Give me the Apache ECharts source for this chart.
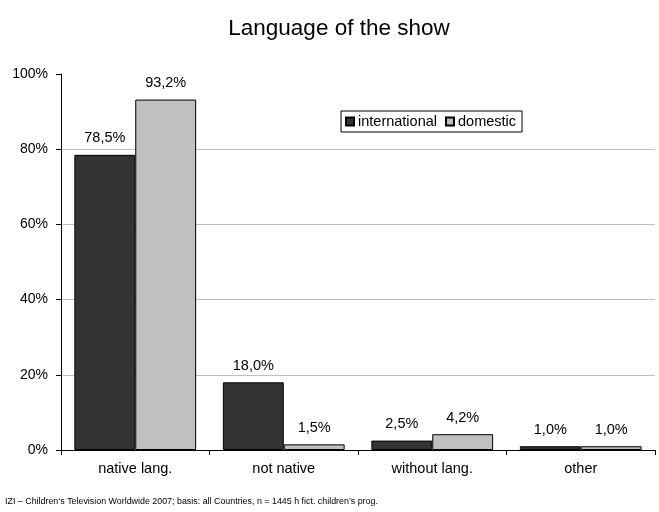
<!DOCTYPE html>
<html>
<head>
<meta charset="utf-8">
<script src="https://cdn.jsdelivr.net/npm/echarts@6/dist/echarts.min.js"></script>
<style>
  html, body { margin: 0; padding: 0; background: #fff; }
  #chart { width: 659px; height: 512px; }
</style>
</head>
<body>
<div id="chart"></div>
<script>
// Language of the show: share of programme hours per category
const categories = ['native lang.', 'not native', 'without lang.', 'other'];
const international = [78.5, 18.0, 2.5, 1.0];
const domestic = [93.2, 1.5, 4.2, 1.0];
const yTicks = [0, 20, 40, 60, 80, 100];

const FONT = '"Liberation Sans", Arial, sans-serif';
const pct = v => v.toFixed(1).replace('.', ',') + '%';

const chart = echarts.init(document.getElementById('chart'), null, { renderer: 'canvas' });

const barLabel = {
  show: true,
  position: 'top',
  distance: 9,
  color: '#000',
  fontFamily: FONT,
  fontSize: 14.5,
  formatter: p => pct(p.value)
};

chart.setOption({
  animation: false,
  backgroundColor: '#fff',
  title: {
    text: 'Language of the show',
    left: 334,
    top: 12,
    textAlign: 'center',
    textStyle: { fontFamily: FONT, fontSize: 22.5, fontWeight: 'normal', color: '#000' }
  },
  graphic: [{
    type: 'text',
    left: 5,
    top: 497,
    style: {
      text: 'IZI \u2013 Children\u2018s Television Worldwide 2007; basis: all Countries, n = 1445 h fict. children\u2019s prog.',
      font: '8.9px ' + FONT,
      fill: '#000'
    }
  }],
  legend: {
    left: 341,
    top: 111,
    orient: 'horizontal',
    padding: [3, 6, 3, 4],
    itemGap: 8,
    itemWidth: 8,
    itemHeight: 8,
    borderColor: '#000',
    borderWidth: 1,
    backgroundColor: '#fff',
    icon: 'rect',
    textStyle: { fontFamily: FONT, fontSize: 14.5, color: '#000', padding: [0, 0, 0, -1] },
    data: ['international', 'domestic']
  },
  grid: { left: 61, right: 4, top: 74, bottom: 62, containLabel: false },
  xAxis: {
    type: 'category',
    data: categories,
    axisLine: { lineStyle: { color: '#000', width: 1 } },
    axisTick: { show: true, length: 5, lineStyle: { color: '#000' } },
    axisLabel: { color: '#000', fontFamily: FONT, fontSize: 14.5, margin: 11 }
  },
  yAxis: {
    type: 'value',
    min: yTicks[0],
    max: yTicks[yTicks.length - 1],
    interval: 20,
    axisLine: { show: true, lineStyle: { color: '#000', width: 1 } },
    axisTick: { show: true, length: 5, lineStyle: { color: '#000' } },
    axisLabel: { color: '#000', fontFamily: FONT, fontSize: 14, margin: 13, formatter: '{value}%' },
    splitLine: {
      show: true,
      lineStyle: { color: ['transparent', '#c0c0c0', '#c0c0c0', '#c0c0c0', '#c0c0c0', 'transparent'], width: 1 }
    }
  },
  series: [
    {
      name: 'international',
      type: 'bar',
      data: international,
      barGap: '0%',
      barCategoryGap: '18%',
      itemStyle: { color: '#333333', borderColor: '#000', borderWidth: 1 },
      label: barLabel
    },
    {
      name: 'domestic',
      type: 'bar',
      data: domestic,
      itemStyle: { color: '#c0c0c0', borderColor: '#000', borderWidth: 1 },
      label: barLabel
    }
  ]
});
</script>
</body>
</html>
